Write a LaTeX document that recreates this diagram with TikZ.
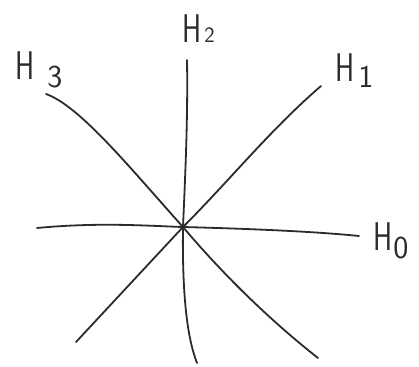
\documentclass[tikz,border=0pt]{standalone}
\usepackage{tikz}
\definecolor{ink}{HTML}{2E2A2B}
\tikzset{
  pen/.style={draw=ink, line width=1.8pt, line cap=round, line join=round},
  lbl/.style={text=ink, inner sep=0pt, anchor=base west, font=\sffamily\fontsize{40}{40}\selectfont},
}
% #1 = gap, #2 = drop, #3 = digit
\newcommand{\hlab}[3]{\scalebox{0.72}[1]{H}\kern#1\raisebox{-#2}{\fontsize{32}{32}\selectfont #3}}
\begin{document}
\begin{tikzpicture}[x=1pt,y=-1pt]
\fill[white] (0,0) rectangle (419,366);
\useasboundingbox (0,0) rectangle (419,366);
\coordinate (c) at (183,227);
\coordinate (h0a) at (37,228);
\coordinate (h0b) at (359,236);
\coordinate (h1a) at (76,342);
\coordinate (h1b) at (321,86);
\coordinate (h2a) at (187,60);
\coordinate (h2b) at (197,363);
\coordinate (h3a) at (46,94);
\coordinate (h3b) at (318,358);
% H0
\draw[pen] (h0a) .. controls (100,222) and (150,226) .. (c)
                 .. controls (260,229) and (320,232) .. (h0b);
% H1
\draw[pen] (h1a) -- (c) .. controls (230,180) and (270,130) .. (h1b);
% H2
\draw[pen] (h2a) .. controls (188,120) and (185,180) .. (c)
                 .. controls (182,300) and (188,340) .. (h2b);
% H3
\draw[pen] (h3a) .. controls (80,106) and (130,168) .. (c)
                 .. controls (215,265) and (262,314) .. (h3b);
% labels
\node[lbl] (l0) at (373,250) {\hlab{1pt}{8pt}{0}};
\node[lbl] (l1) at (335,82) {\hlab{4pt}{6pt}{1}};
\node[lbl] (l2) at (182,43) {\hlab{3pt}{0pt}{\fontsize{22}{22}\selectfont 2}};
\node[lbl] (l3) at (15,80) {\hlab{13pt}{8pt}{3}};
\end{tikzpicture}
\end{document}
